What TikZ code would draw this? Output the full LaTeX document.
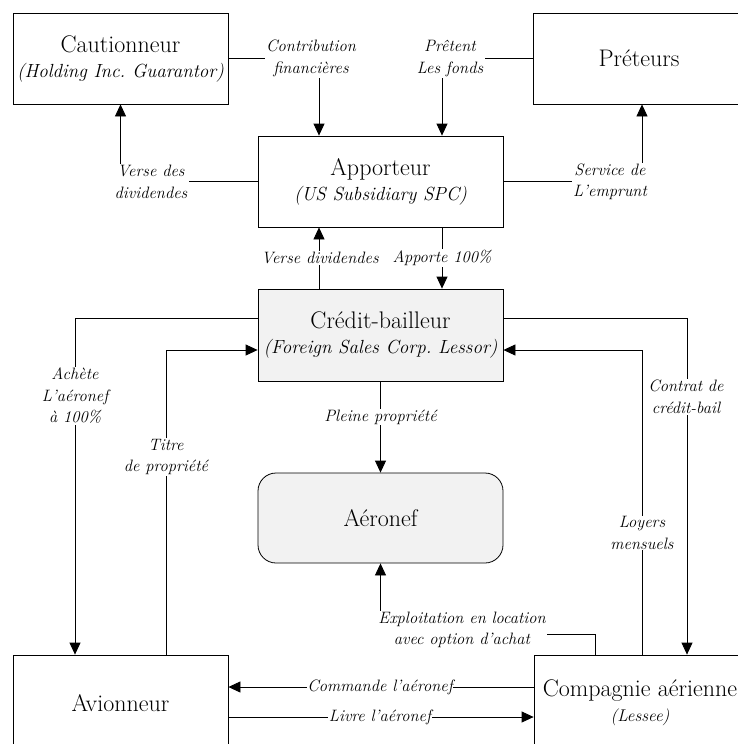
\documentclass[tikz,border=0pt]{standalone}
\usetikzlibrary{arrows.meta}
\definecolor{boxgray}{RGB}{242,242,242}
\newcommand{\boxfont}{\fontsize{24}{25}\selectfont}
\newcommand{\subfont}{\fontsize{19}{25}\selectfont\itshape}
\newcommand{\lblfont}{\fontsize{16.5}{21.5}\selectfont\itshape}
\begin{document}
\begin{tikzpicture}[x=1pt,y=-1pt,
  box/.style={draw=black, line width=0.8pt, align=center, font=\boxfont, inner sep=0pt},
  shaded/.style={box, fill=boxgray},
  lbl/.style={fill=white, align=center, font=\lblfont, inner xsep=1.5pt, inner ysep=1pt},
  conn/.style={line width=0.8pt, -{Triangle[length=12pt,width=11pt]}}]
\useasboundingbox (0,0) rectangle (738,744);
\clip (0,0) rectangle (738,744);

% parties
\node[box, minimum width=215pt, minimum height=91pt] (caut) at (120.5,58.5)
  {Cautionneur\\{\subfont(Holding Inc.\ Guarantor)}};
\node[box, minimum width=212pt, minimum height=91pt] (pret) at (639,58.5) {Préteurs};
\node[box, minimum width=245pt, minimum height=91pt] (appo) at (380.5,181.5)
  {Apporteur\\{\subfont(US Subsidiary SPC)}};
\node[shaded, minimum width=245pt, minimum height=92pt] (cred) at (380.5,335)
  {Crédit-bailleur\\{\subfont(Foreign Sales Corp.\ Lessor)}};
\node[shaded, rounded corners=18pt, minimum width=245pt, minimum height=90pt] (aero) at (380.5,518) {Aéronef};
\node[box, minimum width=215pt, minimum height=96pt] (avio) at (120.5,703) {Avionneur};
\node[box, minimum width=212pt, minimum height=96pt] (comp) at (640,703)
  {Compagnie aérienne\\{\lblfont\fontsize{17}{21}\selectfont(Lessee)}};

% flows between the parties
\draw[conn] (caut.east) -| ([xshift=-61.5pt]appo.north);
\draw[conn] (pret.west) -| ([xshift=61.5pt]appo.north);
\draw[conn] (appo.west) -| (caut.south);
\draw[conn] (appo.east) -| ([xshift=3pt]pret.south);
\draw[conn] ([xshift=-61.5pt]cred.north) -- ([xshift=-61.5pt]appo.south);
\draw[conn] ([xshift=61.5pt]appo.south) -- ([xshift=61.5pt]cred.north);
\draw[conn] (cred.south) -- (aero.north);
\draw[conn] ([yshift=17pt]cred.west) -| ([xshift=-45.5pt]avio.north);
\draw[conn] ([xshift=45.5pt]avio.north) |- ([yshift=-15pt]cred.west);
\draw[conn] ([yshift=17pt]cred.east) -| ([xshift=47pt]comp.north);
\draw[conn] ([xshift=2pt]comp.north) |- ([yshift=-15pt]cred.east);
\draw[conn] ([xshift=-45pt]comp.north) |- ([yshift=-71pt]aero.south) -- (aero.south);
\draw[conn] ([yshift=16pt]comp.west) -- ([yshift=16pt]avio.east);
\draw[conn] ([yshift=-14pt]avio.east) -- ([yshift=-14pt]comp.west);

% flow labels
\node[lbl] (lcontrib) at (311,58.5) {Contribution\\financières};
\node[lbl] (lpret) at (450,58.5) {Prêtent\\Les fonds};
\node[lbl] (lverse) at (151,182) {Verse des\\dividendes};
\node[lbl] (lservice) at (610,182) {Service de\\L'emprunt};
\node[lbl] (lversed) at (320,258) {Verse dividendes};
\node[lbl] (lapporte) at (442,258) {Apporte 100\%};
\node[lbl] (lpleine) at (380.5,417) {Pleine propriété};
\node[lbl] (lachete) at (75,396) {Achète\\L'aéronef\\à 100\%};
\node[lbl] (ltitre) at (166,457) {Titre\\de propriété};
\node[lbl] (lcontrat) at (686,397) {Contrat de\\crédit-bail};
\node[lbl] (lloyers) at (642,533) {Loyers\\mensuels};
\node[lbl] (lexploit) at (462,630) {Exploitation en location\\avec option d'achat};
\node[lbl, inner ysep=0pt, inner xsep=0.5pt] (lcommande) at (380,687) {Commande l'aéronef};
\node[lbl, inner ysep=0pt, inner xsep=0.5pt] (llivre) at (380,717) {Livre l'aéronef};
\end{tikzpicture}
\end{document}
